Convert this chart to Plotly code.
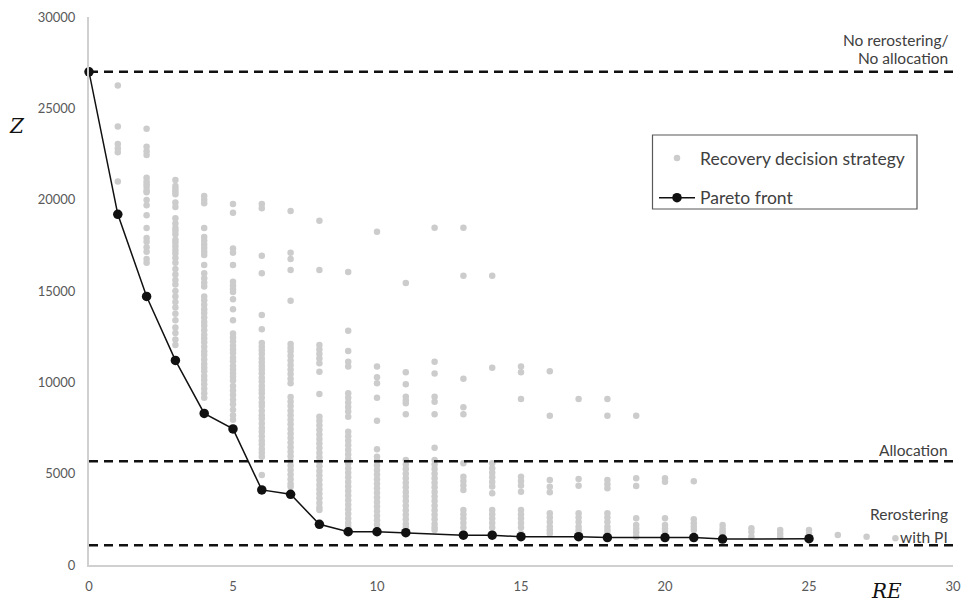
import plotly.graph_objects as go

# Objective value Z of each recovery decision strategy, grouped by RE
z_re1 = [26250, 24000, 23050, 22800, 22600, 21000]
z_re2 = [23880, 22900, 22650, 22450, 21200, 21000, 20850, 20700, 20500, 20400,
         19980, 19700, 19150, 18450, 17900, 17700, 17400, 17150, 16750, 16550]
z_re3 = [21075, 20750, 20600, 20450, 20300, 19850, 19600, 18980, 18700, 18450,
         18300, 18100, 17800, 17650, 17450, 17250, 17050, 16800, 16550, 16200,
         15900, 15600, 15350, 15000, 14700, 14400, 14100, 13750, 13400, 13000,
         12700, 12350, 12050]
z_re4 = [20200, 20000, 19800, 18450, 17950, 17750, 17550, 17350, 17150, 16970,
         16420, 15970, 15700, 15450, 15240, 14700, 14500, 14250, 14000, 13800,
         13550, 13300, 13100, 12850, 12600, 12400, 12200, 11950, 11700, 11500,
         11250, 11000, 10800, 10600, 10350, 10130, 9900, 9650, 9400, 9150]
z_re5 = [19760, 19290, 17330, 17100, 16420, 15500, 15300, 15100, 14950, 14550,
         14000, 13400, 12680, 12450, 12250, 12000, 11800, 11600, 11350, 11150,
         10900, 10700, 10500, 10300, 10100, 9800, 9550, 9300, 9050, 8800,
         8500, 8200, 7950]
z_re6 = [19760, 19530, 16930, 15970, 13685, 12900, 12150, 11950, 11750, 11550,
         11300, 11100, 10900, 10700, 10500, 10250, 10050, 9800, 9600, 9400,
         9150, 8900, 8700, 8450, 8200, 8000, 7750, 7500, 7300, 7050,
         6800, 6600, 6350, 6150, 5930, 4930]
z_re7 = [19380, 17100, 16750, 16150, 14470, 12100, 11900, 11700, 11450, 11200,
         10950, 10700, 10450, 10200, 9950, 9200, 8950, 8700, 8450, 8200,
         7950, 7700, 7450, 7200, 6950, 6700, 6450, 6200, 5950, 5700,
         5450, 5200, 4950, 4700, 4450, 4290]
z_re8 = [18850, 16150, 12040, 11800, 11550, 11300, 11040, 10580, 9360, 8120,
         7900, 7650, 7400, 7150, 6900, 6650, 6400, 6150, 5900, 5650,
         5400, 5150, 4900, 4650, 4400, 4150, 3900, 3650, 3400, 3150, 3010]
z_re9 = [16040, 12830, 11710, 11130, 10860, 9400, 9150, 8900, 8650, 8400,
         8120, 7300, 7050, 6800, 6550, 6300, 6050, 5800, 5550, 5300,
         5050, 4800, 4550, 4300, 4050, 3800, 3550, 3300, 3050, 2800,
         2550, 2300, 2100, 1920]
z_re10 = [18245, 10860, 10275, 9950, 9160, 7900, 6330, 5930, 5700, 5450,
          5200, 4950, 4700, 4450, 4200, 3950, 3700, 3450, 3200, 2950,
          2700, 2450, 2200, 1920]
z_re11 = [15440, 10550, 9890, 9210, 9000, 8850, 8250, 5750, 5500, 5250,
          5000, 4750, 4500, 4250, 4000, 3750, 3500, 3250, 3000, 2750,
          2500, 2250, 2050, 1820]
z_re12 = [18465, 11130, 10490, 9210, 8940, 8250, 6420, 5750, 5500, 5250,
          5000, 4750, 4500, 4250, 4000, 3750, 3500, 3250, 3000, 2750,
          2500, 2250, 2050, 1920]
z_re13 = [18465, 15840, 10200, 8630, 8250, 5570, 4830, 4600, 4350, 4100,
          3010, 2780, 2550, 2300, 2050, 1730]
z_re14 = [15840, 10800, 5570, 5300, 5050, 4800, 4550, 4300, 3925,
          3010, 2780, 2550, 2300, 2050, 1730]
z_re15 = [10860, 10550, 9090, 4830, 4600, 4350, 4010,
          3010, 2780, 2550, 2300, 2050, 1730]
z_re16 = [10600, 8170, 4650, 4290, 3980, 2830, 2600, 2350, 2100, 1900, 1730]
z_re17 = [9090, 4710, 4340, 2830, 2600, 2350, 2100, 1900, 1730]
z_re18 = [9090, 8170, 4650, 4420, 4200, 2830, 2600, 2350, 2100, 1900, 1730]
z_re19 = [8170, 4750, 4320, 2560, 2190, 1980, 1780, 1550]
z_re20 = [4750, 4560, 2560, 2190, 2000, 1820]
z_re21 = [4580, 2500, 2280, 2100, 1920]
z_re22 = [2190, 2000, 1850, 1730]
z_re23 = [2010, 1800, 1550]
z_re24 = [1915, 1730, 1550]
z_re25 = [1915, 1730]
z_re26 = [1640]
z_re27 = [1550]
z_re28 = [1460]

strategy_columns = [
    (1, z_re1), (2, z_re2), (3, z_re3), (4, z_re4), (5, z_re5), (6, z_re6),
    (7, z_re7), (8, z_re8), (9, z_re9), (10, z_re10), (11, z_re11),
    (12, z_re12), (13, z_re13), (14, z_re14), (15, z_re15), (16, z_re16),
    (17, z_re17), (18, z_re18), (19, z_re19), (20, z_re20), (21, z_re21),
    (22, z_re22), (23, z_re23), (24, z_re24), (25, z_re25), (26, z_re26),
    (27, z_re27), (28, z_re28),
]

# Pareto-optimal strategies
pareto_re = [0, 1, 2, 3, 4, 5, 6, 7, 8, 9, 10, 11, 13, 14, 15, 17, 18, 20, 21, 22, 25]
pareto_z = [27000, 19200, 14700, 11200, 8300, 7450, 4110, 3870, 2230, 1820,
            1820, 1770, 1630, 1630, 1550, 1550, 1500, 1500, 1500, 1420, 1440]

# Reference levels (horizontal dashed lines)
ref_levels = [27000, 5680, 1080]

x_ticks = [0, 5, 10, 15, 20, 25, 30]
y_ticks = [0, 5000, 10000, 15000, 20000, 25000, 30000]

strat_x = [re for re, zs in strategy_columns for _ in zs]
strat_y = [z for _, zs in strategy_columns for z in zs]

# plot area in pixels
L, R, T, B = 89, 953, 17, 565
W, H = 972, 602


def px(x):
    return (x - L) / (R - L)


def py(y):
    return (B - y) / (B - T)


fig = go.Figure()

fig.add_trace(go.Scatter(
    x=strat_x, y=strat_y, mode="markers",
    name="Recovery decision strategy",
    marker=dict(color="#cccccc", size=6.5, line=dict(width=0)),
    legendgroup="a", cliponaxis=False,
))

for lvl in ref_levels:
    fig.add_trace(go.Scatter(
        x=[0, 30], y=[lvl, lvl], mode="lines", showlegend=False,
        line=dict(color="#111111", width=2.5, dash="9px,6px"),
        hoverinfo="skip", cliponaxis=False,
    ))

fig.add_trace(go.Scatter(
    x=pareto_re, y=pareto_z, mode="lines+markers", name="Pareto front",
    line=dict(color="#111111", width=1.5),
    marker=dict(color="#111111", size=9.5),
    legendgroup="b", cliponaxis=False,
))

tick_font = dict(family="Lato, sans-serif", size=13, color="#595959")

fig.update_layout(
    width=W, height=H,
    margin=dict(l=L, r=W - R, t=T, b=H - B, pad=0),
    paper_bgcolor="white", plot_bgcolor="white",
    showlegend=True,
    legend=dict(
        x=px(654), y=py(140), xanchor="left", yanchor="top",
        borderwidth=0, bgcolor="rgba(0,0,0,0)",
        font=dict(family="Lato, sans-serif", size=17.5, color="#404040"),
        tracegroupgap=14, itemwidth=36,
    ),
    xaxis=dict(
        range=[0, 30], tickvals=x_ticks, showgrid=False, zeroline=False,
        showline=True, linecolor="#d0d0d0", linewidth=2, ticks="",
        tickfont=tick_font, ticklabelstandoff=8, tickformat="d",
        automargin=False,
    ),
    yaxis=dict(
        range=[0, 30000], tickvals=y_ticks, showgrid=False, zeroline=False,
        showline=True, linecolor="#d0d0d0", linewidth=2, ticks="",
        tickfont=tick_font, ticklabelstandoff=9, tickformat="d",
        automargin=False,
    ),
)

# legend frame
fig.add_shape(type="rect", xref="paper", yref="paper",
              x0=px(652.5), x1=px(917), y0=py(209), y1=py(135),
              line=dict(color="#595959", width=1.2), fillcolor="rgba(0,0,0,0)")

label_font = dict(family="Lato, sans-serif", size=15.5, color="#404040")
annotations = [
    dict(y=40, text="No rerostering/"),
    dict(y=58, text="No allocation"),
    dict(y=450, text="Allocation"),
    dict(y=514, text="Rerostering"),
    dict(y=537, text="with PI"),
]
for a in annotations:
    fig.add_annotation(
        xref="paper", yref="paper", x=px(950), y=py(a["y"]),
        text=a["text"], xanchor="right", yanchor="middle",
        showarrow=False, font=label_font,
    )

serif_it = dict(family="DejaVu Serif, serif", size=20, color="#111111")
fig.add_annotation(xref="paper", yref="paper", x=px(17), y=py(126),
                   text="<i>Z</i>", showarrow=False, xanchor="center",
                   yanchor="middle", font=serif_it)
fig.add_annotation(xref="paper", yref="paper", x=px(886), y=py(591),
                   text="<i>RE</i>", showarrow=False, xanchor="center",
                   yanchor="middle", font=serif_it)

fig.write_html("out.html")
